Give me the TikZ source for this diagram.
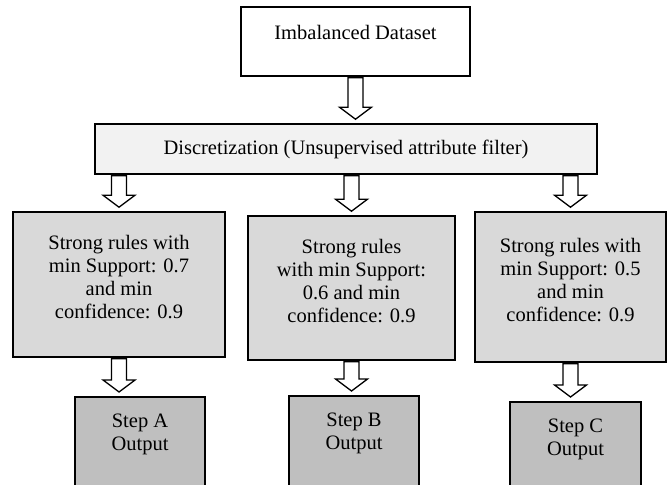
\documentclass[tikz,border=0pt]{standalone}
\usepackage{fontspec}
\setmainfont{Liberation Serif}
\usepackage{tikz}
\usetikzlibrary{shapes, arrows, positioning, calc}
\usepackage{xcolor}
\definecolor{filtergray}{HTML}{F2F2F2}
\definecolor{rulegray}{HTML}{D9D9D9}
\definecolor{outgray}{HTML}{BFBFBF}
\tikzstyle{source} = [
    rectangle,
    draw=black,
    line width=1.6pt,
    fill=white,
    minimum width=229pt,
    minimum height=69pt,
    text depth=18.5pt,
    text centered
]
\tikzstyle{filter} = [
    rectangle,
    draw=black,
    line width=1.6pt,
    fill=filtergray,
    minimum width=502pt,
    minimum height=50pt,
    text centered
]
\tikzstyle{rules} = [
    rectangle,
    draw=black,
    line width=1.6pt,
    fill=rulegray,
    text depth=14.5pt,
    align=center
]
\tikzstyle{output} = [
    rectangle,
    draw=black,
    line width=1.6pt,
    fill=outgray,
    anchor=north,
    inner xsep=6pt,
    inner ysep=17.5pt
]
\tikzstyle{flowarrow} = [
    draw=black,
    line width=1.3pt,
    fill=white,
    line join=miter
]
\newcommand{\flowarrow}[3]{%
    \draw[flowarrow] let \p1=(#1.south), \p2=(#2.north), \p3=(#3) in
        (\x3-7.5pt,\y1-1pt) -- (\x3+7.5pt,\y1-1pt) -- (\x3+7.5pt,\y2+16pt)
        -- (\x3+16pt,\y2+16pt) -- (\x3,\y2+4pt) -- (\x3-16pt,\y2+16pt)
        -- (\x3-7.5pt,\y2+16pt) -- cycle;
}

\begin{document}
\begin{tikzpicture}[x=1pt, y=1pt, font=\fontsize{20.5}{23}\selectfont]
    \clip (0,0) rectangle (668,484);
    \node[source] (data) at (355.5,442.5) {Imbalanced Dataset};
    \node[filter] (disc) at (346,335) {Discretization (Unsupervised attribute filter)};

    \node[rules, minimum width=212pt, minimum height=145pt] (ruleA) at (119,199.5)
        {Strong rules with\\min Support: 0.7\\and min\\confidence: 0.9};
    \node[rules, minimum width=207pt, minimum height=144pt] (ruleB) at (351.5,196)
        {Strong rules\\with min Support:\\0.6 and min\\confidence: 0.9};
    \node[rules, minimum width=191pt, minimum height=150pt] (ruleC) at (570.5,197)
        {Strong rules with\\min Support: 0.5\\and min\\confidence: 0.9};

    \node[output] (outA) at (140,88)
        {\parbox[t][110pt][t]{118pt}{\centering Step A\\Output}};
    \node[output] (outB) at (354,89)
        {\parbox[t][110pt][t]{118pt}{\centering Step B\\Output}};
    \node[output] (outC) at (575.5,83)
        {\parbox[t][110pt][t]{119pt}{\centering Step C\\Output}};

    \flowarrow{data}{disc}{data.south}
    \flowarrow{disc}{ruleA}{ruleA.north}
    \flowarrow{disc}{ruleB}{ruleB.north}
    \flowarrow{disc}{ruleC}{ruleC.north}
    \flowarrow{ruleA}{outA}{ruleA.south}
    \flowarrow{ruleB}{outB}{ruleB.south}
    \flowarrow{ruleC}{outC}{ruleC.south}
\end{tikzpicture}
\end{document}
